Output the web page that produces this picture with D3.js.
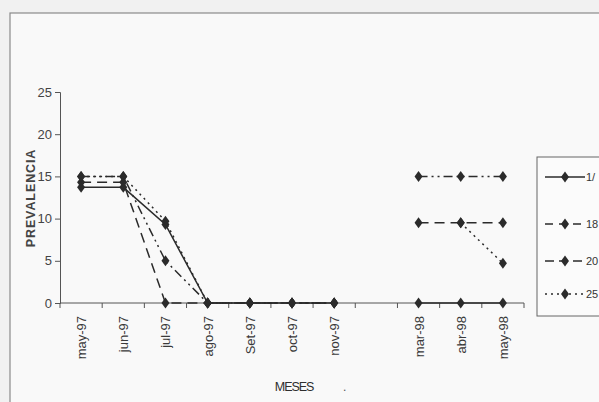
<!DOCTYPE html>
<html>
<head>
<meta charset="utf-8">
<script src="https://cdn.jsdelivr.net/npm/d3@7"></script>
<style>
  html, body { margin: 0; padding: 0; background: #f1f1f1; }
  svg { display: block; }
</style>
</head>
<body>
<svg id="chart" width="599" height="402"></svg>
<script>
// Monthly prevalence, May 1997 to May 1998 (one month left without a sample)
const months = ["may-97", "jun-97", "jul-97", "ago-97", "Set-97", "oct-97", "nov-97", "", "mar-98", "abr-98", "may-98"];
const yTicks = [0, 5, 10, 15, 20, 25];

const seriesNames = ["1/", "18", "20", "25"];
const serie1 = [13.7, 13.7, 9.3, 0, 0, 0, 0, null, 0, 0, 0];
const serie2 = [14.3, 14.3, 0, 0, 0, 0, 0, null, 9.5, 9.5, 9.5];
const serie3 = [15, 15, 5, 0, 0, 0, 0, null, 15, 15, 15];
const serie4 = [15, 15, 9.7, 0, 0, 0, 0, null, null, 9.5, 4.7];

const dashes = [null, "10,6", "9,4,2,4,2,4", "2,4"];
const legendDashes = [null, "8,6", "9,5", "2,4"];
const seriesValues = [serie1, serie2, serie3, serie4];

const svg = d3.select("#chart");
const ink = "#2b2b2b";
const font = "Arial, 'Liberation Sans', sans-serif";

// page frame
svg.append("rect").attr("x", 10).attr("y", 13).attr("width", 620).attr("height", 400)
  .attr("fill", "#f9f9f9").attr("stroke", "#8a8a8a").attr("stroke-width", 1.2);

const x = d3.scaleBand().domain(months).range([60, 524]).padding(0);
const y = d3.scaleLinear().domain([0, 25]).range([303, 92]);

// y axis
const yAxis = svg.append("g").attr("transform", "translate(60,0)")
  .call(d3.axisLeft(y).tickValues(yTicks).tickSize(5).tickPadding(3));
yAxis.select(".domain").attr("stroke", "#555").attr("stroke-width", 1);
yAxis.selectAll(".tick line").attr("stroke", "#555");
yAxis.selectAll("text").attr("font-family", font)
  .attr("font-size", 13).attr("fill", "#444");

// x axis: ticks on the category boundaries, labels rotated
const xg = svg.append("g").attr("transform", "translate(0,303)");
xg.append("line").attr("x1", 60).attr("x2", 524).attr("y1", 0).attr("y2", 0)
  .attr("stroke", "#555");
const bounds = months.map((m) => x(m)).concat([x(months[months.length - 1]) + x.bandwidth()]);
xg.selectAll("line.tk").data(bounds).join("line").attr("class", "tk")
  .attr("x1", (d) => d).attr("x2", (d) => d).attr("y1", 0).attr("y2", 5)
  .attr("stroke", "#555");
xg.selectAll("text.lbl").data(months).join("text").attr("class", "lbl")
  .attr("transform", (d) => `translate(${x(d) + x.bandwidth() / 2 + 5},13) rotate(-90)`)
  .attr("text-anchor", "end")
  .attr("font-family", font)
  .attr("font-size", 13).attr("fill", "#3a3a3a")
  .text((d) => d);

// axis titles
svg.append("text").attr("transform", "translate(35,198) rotate(-90)")
  .attr("text-anchor", "middle").attr("font-family", font)
  .attr("font-size", 12.5).attr("font-weight", "bold").attr("letter-spacing", 0.9)
  .attr("fill", "#444").text("PREVALENCIA");
svg.append("text").attr("x", 294).attr("y", 391).attr("text-anchor", "middle")
  .attr("font-family", font).attr("font-size", 12.5)
  .attr("letter-spacing", -1.1).attr("fill", "#2e2e2e").text("MESES");
svg.append("text").attr("x", 343).attr("y", 391)
  .attr("font-family", font).attr("font-size", 12)
  .attr("fill", "#555").text(".");

// series lines and diamond markers
const cx = (i) => x(months[i]) + x.bandwidth() / 2;
const line = d3.line().defined((d) => d != null).x((d, i) => cx(i)).y((d) => y(d));
const diamond = "M0,-5.5L4,0L0,5.5L-4,0Z";

seriesValues.forEach((vals, k) => {
  svg.append("path").datum(vals).attr("d", line)
    .attr("fill", "none").attr("stroke", ink).attr("stroke-width", 1.5)
    .attr("stroke-dasharray", dashes[k]);
  svg.append("g").selectAll("path")
    .data(vals.map((v, i) => ({ v, i })).filter((d) => d.v != null))
    .join("path").attr("d", diamond)
    .attr("transform", (d) => `translate(${cx(d.i)},${y(d.v)})`)
    .attr("fill", ink);
});

// legend
const legendY = [177, 224, 261, 294];
svg.append("rect").attr("x", 537).attr("y", 157).attr("width", 80).attr("height", 159)
  .attr("fill", "#fbfbfb").attr("stroke", "#666").attr("stroke-width", 1);
seriesNames.forEach((name, k) => {
  const g = svg.append("g").attr("transform", `translate(0,${legendY[k]})`);
  g.append("line").attr("x1", 545).attr("x2", 585).attr("y1", 0).attr("y2", 0)
    .attr("stroke", ink).attr("stroke-width", 1.5).attr("stroke-dasharray", legendDashes[k]);
  g.append("path").attr("d", diamond).attr("transform", "translate(565,0)").attr("fill", ink);
  g.append("text").attr("x", 586).attr("y", 4)
    .attr("font-family", font).attr("font-size", 11)
    .attr("fill", "#333").text(name);
});
</script>
</body>
</html>
